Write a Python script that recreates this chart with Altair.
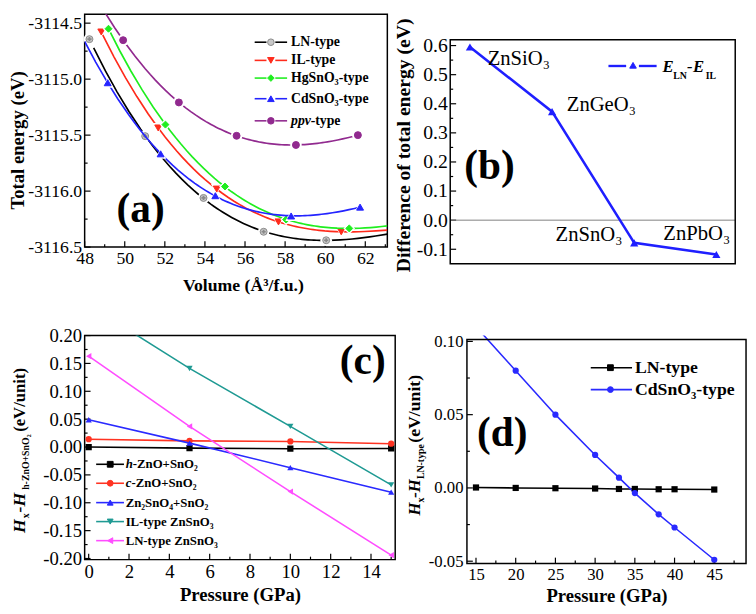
import altair as alt
import pandas as pd

SERIF = "Liberation Serif"

# ---------------- panel (a): total energy vs volume ----------------
a_labels = ["LN-type", "IL-type", "HgSnO₃-type", "CdSnO₃-type", "ppv-type"]
a_ln_vol = [48.24, 51.02, 53.93, 56.93, 60.05]
a_ln_e = [-3114.643, -3115.509, -3116.061, -3116.363, -3116.439]
a_il_vol = [48.83, 51.67, 54.59, 57.67, 60.80]
a_il_e = [-3114.579, -3115.436, -3115.982, -3116.275, -3116.363]
a_hg_vol = [49.19, 52.03, 55.00, 58.05, 61.20]
a_hg_e = [-3114.550, -3115.406, -3115.959, -3116.254, -3116.333]
a_cd_vol = [49.15, 51.79, 54.52, 58.30, 61.74]
a_cd_e = [-3115.032, -3115.667, -3116.041, -3116.222, -3116.143]
a_ppv_vol = [49.92, 52.70, 55.58, 58.54, 61.63]
a_ppv_e = [-3114.652, -3115.208, -3115.506, -3115.588, -3115.500]
a_fit_from = [48.45, 48.9, 49.2, 48.0, 49.0]
a_fit_to = [63.1, 63.1, 63.1, 61.74, 61.63]
a_xticks = [48, 50, 52, 54, 56, 58, 60, 62]
a_xminor = [49, 51, 53, 55, 57, 59, 61, 63]
a_yticks = [-3116.5, -3116.0, -3115.5, -3115.0, -3114.5]
a_yminor = [-3116.25, -3115.75, -3115.25, -3114.75]

# ---------------- panel (b): E_LN - E_IL ----------------
b_compounds = ["ZnSiO₃", "ZnGeO₃", "ZnSnO₃", "ZnPbO₃"]
b_diff = [0.595, 0.373, -0.078, -0.118]
b_yticks = [-0.1, 0.0, 0.1, 0.2, 0.3, 0.4, 0.5, 0.6]
b_yminor = [-0.05, 0.05, 0.15, 0.25, 0.35, 0.45, 0.55]

# ---------------- panel (c): enthalpy vs pressure ----------------
c_labels = ["h-ZnO+SnO₂", "c-ZnO+SnO₂", "Zn₂SnO₄+SnO₂", "IL-type ZnSnO₃", "LN-type ZnSnO₃"]
c_pressure = [0, 5, 10, 15]
c_h_zno = [0.000, -0.002, -0.003, -0.0025]
c_c_zno = [0.014, 0.011, 0.010, 0.006]
c_zn2sno4 = [0.049, 0.007, -0.037, -0.081]
c_il = [0.255, 0.141, 0.037, -0.068]
c_ln = [0.163, 0.037, -0.080, -0.194]
c_xticks = [0, 2, 4, 6, 8, 10, 12, 14]
c_xminor = [1, 3, 5, 7, 9, 11, 13, 15]
c_yticks = [-0.2, -0.15, -0.1, -0.05, 0.0, 0.05, 0.1, 0.15, 0.2]
c_yminor = [-0.175, -0.125, -0.075, -0.025, 0.025, 0.075, 0.125, 0.175]

# ---------------- panel (d): enthalpy vs pressure ----------------
d_labels = ["LN-type", "CdSnO₃-type"]
d_pressure = [15, 20, 25, 30, 33, 35, 38, 40, 45]
d_ln = [0.0003, 0.0, -0.0002, -0.0004, -0.0007, -0.0007, -0.0009, -0.0009, -0.0011]
d_cd = [0.110, 0.080, 0.050, 0.0225, 0.007, -0.0035, -0.018, -0.027, -0.049]
d_xticks = [15, 20, 25, 30, 35, 40, 45]
d_xminor = [17.5, 22.5, 27.5, 32.5, 37.5, 42.5, 47.5]
d_yticks = [-0.05, 0.0, 0.05, 0.1]
d_yminor = [-0.025, 0.025, 0.075]


# ---------------- helpers ----------------
def one():
    return alt.Data(values=[{"k": 0}])


def txt(x, y, s, size, weight="bold", style="normal", align="left",
        baseline="middle", angle=0):
    return alt.Chart(one()).mark_text(
        text=s, font=SERIF, fontSize=size, fontWeight=weight, fontStyle=style,
        align=align, baseline=baseline, angle=angle, color="black"
    ).encode(x=alt.value(x), y=alt.value(y))


def seg(x1, x2, y, color, w=1.6):
    return alt.Chart(one()).mark_rule(color=color, strokeWidth=w).encode(
        x=alt.value(x1), x2=alt.value(x2), y=alt.value(y))


def sym(x, y, shape, fill, stroke, size):
    return alt.Chart(one()).mark_point(
        shape=shape, filled=True, size=size, fill=fill, stroke=stroke,
        strokeWidth=1, opacity=1, fillOpacity=1
    ).encode(x=alt.value(x), y=alt.value(y))


def frame(x1, x2, y1, y2):
    return alt.Chart(one()).mark_rect(fillOpacity=0, stroke="black", strokeWidth=1.5).encode(
        x=alt.value(x1), x2=alt.value(x2), y=alt.value(y1), y2=alt.value(y2))


def xtick(vals, X, field, ybottom, size):
    return alt.Chart(pd.DataFrame({field: vals})).mark_tick(
        orient="vertical", size=size, thickness=1.2, color="black", opacity=1
    ).encode(x=X, y=alt.value(ybottom - size / 2))


def ytick(vals, Y, field, size):
    return alt.Chart(pd.DataFrame({field: vals})).mark_tick(
        orient="horizontal", size=size, thickness=1.2, color="black", opacity=1
    ).encode(y=Y, x=alt.value(size / 2))


def ax(**kw):
    base = dict(labelFont=SERIF, titleFont=SERIF, labelFlush=False, labelColor="black",
                titleColor="black", titleFontWeight="bold")
    base.update(kw)
    return alt.Axis(**base)


# ================= panel (a) =================
A_W, A_H = 308, 237
XA = alt.X("v:Q", scale=alt.Scale(domain=[48, 63.1], nice=False, zero=False),
           axis=ax(values=a_xticks, title="Volume (Å³/f.u.)",
                   labelFontSize=18, titleFontSize=18, labelPadding=3, titlePadding=9,
                   titleX=161))
YA = alt.Y("e:Q", scale=alt.Scale(domain=[-3116.5, -3114.42], nice=False, zero=False),
           axis=ax(values=a_yticks, format=".1f",
                   title="Total energy (eV)", labelFontSize=18, titleFontSize=19,
                   labelPadding=3, titlePadding=0, titleY=128))

a_series = [(a_ln_vol, a_ln_e), (a_il_vol, a_il_e), (a_hg_vol, a_hg_e),
            (a_cd_vol, a_cd_e), (a_ppv_vol, a_ppv_e)]
a_style = [
    ("black", "circle", "#c8c8c8", "#8a8a8a"),
    ("#ff2b1c", "triangle-down", "#ff2b1c", "#ff2b1c"),
    ("#1fee1f", "diamond", "#1fee1f", "#1fee1f"),
    ("#2424ff", "triangle-up", "#2424ff", "#2424ff"),
    ("#912a8f", "circle", "#912a8f", "#912a8f"),
]
a_layers = [
    xtick(a_xticks, XA, "v", A_H, 6), xtick(a_xminor, XA, "v", A_H, 3),
    ytick(a_yticks, YA, "e", 6), ytick(a_yminor, YA, "e", 3),
]
for (vol, en), (lc, shp, fc, sc), lo, hi in zip(a_series, a_style, a_fit_from, a_fit_to):
    df = pd.DataFrame({"v": vol, "e": en})
    base = alt.Chart(df)
    a_layers.append(
        base.transform_regression("v", "e", method="poly", order=3, extent=[lo, hi])
        .mark_line(color=lc, strokeWidth=1.7, clip=True).encode(x=XA, y=YA))
    a_layers.append(base.mark_point(shape=shp, filled=True, size=140, color="white",
                                    opacity=1).encode(x=XA, y=YA))
    a_layers.append(base.mark_point(shape=shp, filled=True, size=50, fill=fc, stroke=sc,
                                    strokeWidth=1, opacity=1).encode(x=XA, y=YA))
    if shp == "circle" and lc == "black":
        a_layers.append(base.mark_point(shape="cross", filled=True, size=18,
                                        color="#8a8a8a", opacity=1).encode(x=XA, y=YA))

a_rows = [28.5, 47, 65, 86, 108.5]
for (lc, shp, fc, sc), lab, ry in zip(a_style, a_labels, a_rows):
    a_layers.append(seg(173, 185, ry, lc))
    a_layers.append(seg(194, 206, ry, lc))
    a_layers.append(sym(189.5, ry, shp, fc, sc, 45))
    if lab.startswith("ppv"):
        a_layers.append(txt(210, ry, "ppv", 14, style="italic"))
        a_layers.append(txt(230, ry, lab[3:], 14))
    else:
        a_layers.append(txt(210, ry, lab, 14))
a_layers.append(txt(57, 198, "(a)", 42, align="center"))

panel_a = alt.layer(*a_layers).properties(width=A_W, height=A_H)

# ================= panel (b) =================
B_TOP = 26
B_H = 228
df_b = pd.DataFrame({"i": list(range(len(b_compounds))), "d": b_diff, "name": b_compounds})
XB = alt.X("i:Q", scale=alt.Scale(domain=[-0.24, 3.23], nice=False, zero=False), axis=None)
YB = alt.Y("d:Q", scale=alt.Scale(domain=[-0.150, 0.620], range=[B_TOP + B_H, B_TOP],
                                  nice=False, zero=False),
           axis=ax(values=b_yticks, format=".1f",
                   title="Difference of total energy (eV)", labelFontSize=20,
                   titleFontSize=20, labelPadding=3, titlePadding=3, titleY=B_TOP + 107))
b_layers = [
    ytick(b_yticks, YB, "d", 6), ytick(b_yminor, YB, "d", 3),
    alt.Chart(pd.DataFrame({"d": [0.0]})).mark_rule(color="#808080", strokeWidth=1)
    .encode(y=YB),
    alt.Chart(df_b).mark_line(color="#1f1fff", strokeWidth=2.6).encode(x=XB, y=YB),
    alt.Chart(df_b).mark_point(shape="triangle-up", filled=True, size=70,
                               color="#1f1fff", opacity=1).encode(x=XB, y=YB),
]
b_offsets = [(18, 12, "left"), (15, -7, "left"), (-46, -8, "center"), (-20, -21, "center")]
for k, (dx, dy, al) in enumerate(b_offsets):
    b_layers.append(
        alt.Chart(df_b).transform_filter(alt.datum.i == k)
        .mark_text(font=SERIF, fontSize=21, dx=dx, dy=dy, align=al, baseline="middle",
                   color="black")
        .encode(x=XB, y=YB, text="name:N"))
b_layers += [
    seg(161, 179, B_TOP + 26.7, "#1f1fff", 2.4),
    seg(192, 210, B_TOP + 26.7, "#1f1fff", 2.4),
    sym(186, B_TOP + 26, "triangle-up", "#1f1fff", "#1f1fff", 45),
    txt(216, B_TOP + 32.7, "E", 17, style="italic", baseline="alphabetic"),
    txt(227, B_TOP + 40, "LN", 10, baseline="alphabetic"),
    txt(241, B_TOP + 32.7, "-", 17, style="italic", baseline="alphabetic"),
    txt(247, B_TOP + 32.7, "E", 17, style="italic", baseline="alphabetic"),
    txt(260, B_TOP + 40, "IL", 10, baseline="alphabetic"),
    txt(40, B_TOP + 129, "(b)", 42, align="center"),
    frame(0, 290, B_TOP, B_TOP + B_H),
]
panel_b = alt.layer(*b_layers).properties(
    width=290, height=B_TOP + B_H, view=alt.ViewBackground(stroke="transparent"))

# ================= panel (c) =================
C_W, C_H = 316, 228
XC = alt.X("p:Q", scale=alt.Scale(domain=[-0.2, 15.2], nice=False, zero=False),
           axis=ax(values=c_xticks, title="Pressure (GPa)",
                   labelFontSize=19, titleFontSize=19, labelPadding=3, titlePadding=5))
YC = alt.Y("h:Q", scale=alt.Scale(domain=[-0.202, 0.2], nice=False, zero=False),
           axis=ax(values=c_yticks, format=".2f", title=None, labelFontSize=19,
                   labelPadding=3))
c_series = [c_h_zno, c_c_zno, c_zn2sno4, c_il, c_ln]
c_style = [("black", "square"), ("#ff3322", "circle"), ("#2a2aff", "triangle-up"),
           ("#1f9a93", "triangle-down"), ("#ff4dff", "triangle-left")]
c_layers = [
    xtick(c_xticks, XC, "p", C_H, 6), xtick(c_xminor, XC, "p", C_H, 3),
    ytick(c_yticks, YC, "h", 6), ytick(c_yminor, YC, "h", 3),
]
for vals, (col, shp) in zip(c_series, c_style):
    df = pd.DataFrame({"p": c_pressure, "h": vals})
    c_layers.append(alt.Chart(df).mark_line(color=col, strokeWidth=1.6, clip=True)
                    .encode(x=XC, y=YC))
    c_layers.append(alt.Chart(df).mark_point(shape=shp, filled=True, size=40, color=col,
                                             opacity=1, clip=True).encode(x=XC, y=YC))
c_rows = [131, 150.3, 170, 189.3, 208.7]
for (col, shp), lab, ry in zip(c_style, c_labels, c_rows):
    c_layers.append(seg(11.7, 40, ry, col, 1.6))
    c_layers.append(sym(26, ry, shp, col, col, 35))
    if lab[0] in "hc":
        c_layers.append(txt(41.7, ry, lab[0], 13, style="italic"))
        c_layers.append(txt(41.7 + (7.3 if lab[0] == "h" else 5.9), ry, lab[1:], 13))
    else:
        c_layers.append(txt(41.7, ry, lab, 13))
c_layers += [
    txt(-61, 201, "H", 18, style="italic", baseline="alphabetic", angle=270),
    txt(-57, 186, "x", 10, baseline="alphabetic", angle=270),
    txt(-61, 180, "-H", 18, style="italic", baseline="alphabetic", angle=270),
    txt(-57, 157, "h-ZnO+SnO₂", 10, baseline="alphabetic", angle=270),
    txt(-61, 98, "(eV/unit)", 17, baseline="alphabetic", angle=270),
    txt(283, 26, "(c)", 42, align="center"),
]
panel_c = alt.layer(*c_layers).properties(width=C_W, height=C_H)

# ================= panel (d) =================
D_TOP = 4
D_H = 228
XD = alt.X("p:Q", scale=alt.Scale(domain=[13.86, 49], nice=False, zero=False),
           axis=ax(values=d_xticks, title="Pressure (GPa)",
                   labelFontSize=17, titleFontSize=19, labelPadding=3, titlePadding=5))
YD = alt.Y("h:Q", scale=alt.Scale(domain=[-0.0516, 0.1013], range=[D_TOP + D_H, D_TOP],
                                  nice=False, zero=False),
           axis=ax(values=d_yticks, format=".2f", title=None,
                   labelFontSize=17, labelPadding=4))
d_style = [("black", "square"), ("#2a2aff", "circle")]
d_layers = [
    xtick(d_xticks, XD, "p", D_TOP + D_H, 6), xtick(d_xminor, XD, "p", D_TOP + D_H, 3),
    ytick(d_yticks, YD, "h", 6), ytick(d_yminor, YD, "h", 3),
]
for vals, (col, shp) in zip([d_ln, d_cd], d_style):
    df = pd.DataFrame({"p": d_pressure, "h": vals})
    d_layers.append(alt.Chart(df).mark_line(color=col, strokeWidth=1.6, clip=True)
                    .encode(x=XD, y=YD))
for vals, (col, shp) in zip([d_ln, d_cd], d_style):
    df = pd.DataFrame({"p": d_pressure, "h": vals})
    d_layers.append(alt.Chart(df).transform_filter(alt.datum.h <= 0.1013)
                    .mark_point(shape=shp, filled=True, size=40, color=col,
                                opacity=1).encode(x=XD, y=YD))
d_rows = [28.7, 51]
for (col, shp), lab, ry in zip(d_style, d_labels, d_rows):
    d_layers.append(seg(126, 168, D_TOP + ry, col, 1.6))
    d_layers.append(sym(146, D_TOP + ry, shp, col, col, 35))
    d_layers.append(txt(171, D_TOP + ry, lab, 18))
d_layers += [
    txt(-48, D_TOP + 179, "H", 17, style="italic", baseline="alphabetic", angle=270),
    txt(-44, D_TOP + 166, "x", 10, baseline="alphabetic", angle=270),
    txt(-48, D_TOP + 161, "-H", 17, style="italic", baseline="alphabetic", angle=270),
    txt(-44, D_TOP + 142, "LN-type", 10, baseline="alphabetic", angle=270),
    txt(-48, D_TOP + 105, "(eV/unit)", 18, baseline="alphabetic", angle=270),
    txt(36, D_TOP + 95, "(d)", 42, align="center"),
    frame(0, 284, D_TOP, D_TOP + D_H),
]
panel_d = alt.layer(*d_layers).properties(
    width=284, height=D_TOP + D_H, view=alt.ViewBackground(stroke="transparent"))

row1 = alt.hconcat(panel_a, panel_b, spacing=4).resolve_scale(x="independent", y="independent")
row2 = alt.hconcat(panel_c, panel_d, spacing=9).resolve_scale(x="independent", y="independent")

chart = (
    alt.vconcat(row1, row2, spacing=31)
    .resolve_scale(x="independent", y="independent")
    .properties(padding={"left": 0, "top": 0, "right": 0, "bottom": 0})
    .configure(locale={"number": {"decimal": ".", "thousands": ",", "grouping": [3],
                                  "currency": ["", ""], "minus": "-"}})
    .configure_view(stroke="black", strokeWidth=1.5)
    .configure_axis(domain=False, ticks=False, grid=False, labelFont=SERIF,
                    titleFont=SERIF, labelColor="black", titleColor="black",
                    titleFontWeight="bold")
)

chart.save("out.html", embed_options={"renderer": "svg", "actions": False})
